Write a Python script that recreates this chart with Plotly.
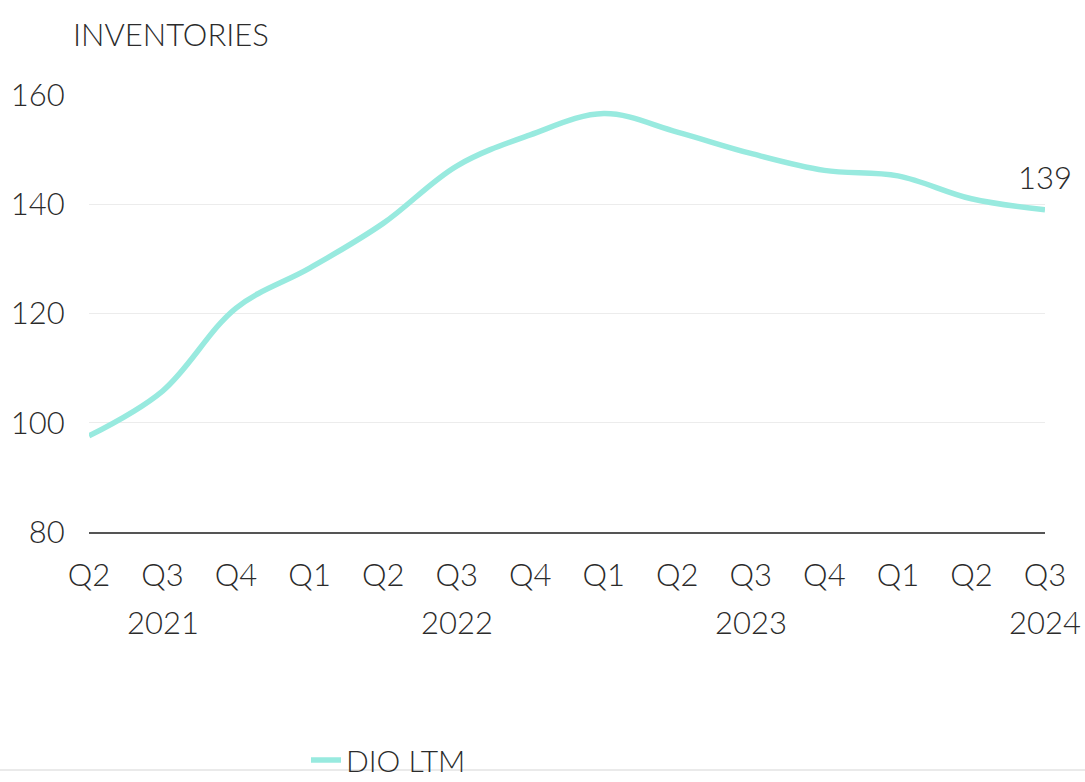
import plotly.graph_objects as go

# Days inventory outstanding, last twelve months, by quarter
quarters = ["Q2", "Q3", "Q4", "Q1", "Q2", "Q3", "Q4", "Q1", "Q2", "Q3", "Q4", "Q1", "Q2", "Q3"]
dio_ltm = [97.6, 105.8, 121.0, 128.3, 136.5, 147.0, 152.7, 156.6, 153.2, 149.3, 146.2, 145.2, 141.0, 139.0]
year_labels = {1: "2021", 5: "2022", 9: "2023", 13: "2024"}
y_ticks = [80, 100, 120, 140, 160]

series_name = "DIO LTM"
title_text = "INVENTORIES"

FONT = "Lato"
TEXT_COLOR = "#2b2b2b"
LINE_COLOR = "#98eadf"

W, H = 1085, 782
ML, MR, MT, MB = 89, 40, 95, 250
plot_h = H - MT - MB

x_idx = list(range(len(quarters)))

fig = go.Figure()
fig.add_trace(go.Scatter(
    x=x_idx,
    y=dio_ltm,
    mode="lines",
    name=series_name,
    line=dict(color=LINE_COLOR, width=5.5, shape="spline", smoothing=1.0),
    hoverinfo="skip",
))

annotations = []
# year captions beneath the quarter labels
for i, yr in year_labels.items():
    annotations.append(dict(
        x=i, y=0, xref="x", yref="paper", text=yr, showarrow=False,
        xanchor="center", yanchor="middle", yshift=-90,
        font=dict(family=FONT, size=31, color=TEXT_COLOR, weight=300),
    ))
# latest value label
annotations.append(dict(
    x=x_idx[-1], y=dio_ltm[-1], xref="x", yref="y",
    text=f"{dio_ltm[-1]:.0f}", showarrow=False,
    xanchor="center", yanchor="middle", yshift=33,
    font=dict(family=FONT, size=31, color=TEXT_COLOR, weight=300),
))

fig.update_layout(
    width=W, height=H,
    margin=dict(l=ML, r=MR, t=MT, b=MB, pad=0, autoexpand=False),
    paper_bgcolor="white",
    plot_bgcolor="white",
    font=dict(family=FONT, size=31, color=TEXT_COLOR, weight=300),
    title=dict(
        text=title_text, x=73 / W, xanchor="left", xref="container",
        y=1 - 35 / H, yanchor="middle", yref="container",
        font=dict(family=FONT, size=31, color=TEXT_COLOR, weight=300),
    ),
    showlegend=True,
    legend=dict(
        orientation="h", x=(306 - ML) / (W - ML - MR), xanchor="left",
        yref="container", y=1 - 760 / H, yanchor="middle",
        font=dict(family=FONT, size=30, color=TEXT_COLOR, weight=300),
        bgcolor="rgba(0,0,0,0)",
    ),
    annotations=annotations,
    shapes=[dict(
        type="line", xref="paper", yref="paper",
        x0=-ML / (W - ML - MR), x1=(W - ML) / (W - ML - MR),
        y0=-(770 - (H - MB)) / plot_h, y1=-(770 - (H - MB)) / plot_h,
        line=dict(color="#e3e3e3", width=1.5),
    )],
)

fig.update_xaxes(
    range=[0, len(quarters) - 1],
    tickmode="array", tickvals=x_idx, ticktext=quarters,
    showgrid=False, zeroline=False, automargin=False,
    showline=True, linecolor="#555555", linewidth=1.5,
    ticks="outside", ticklen=0, ticklabelstandoff=15,
    tickfont=dict(family=FONT, size=31, color=TEXT_COLOR, weight=300),
    fixedrange=True,
)
fig.update_yaxes(
    range=[80, 160],
    tickmode="array", tickvals=y_ticks,
    showgrid=True, gridcolor="#ececec", gridwidth=1,
    zeroline=False, showline=False, automargin=False,
    ticks="outside", ticklen=0, ticklabelstandoff=17,
    tickfont=dict(family=FONT, size=31, color=TEXT_COLOR, weight=300),
    fixedrange=True,
)

fig.write_html("out.html", config={"displayModeBar": False})
